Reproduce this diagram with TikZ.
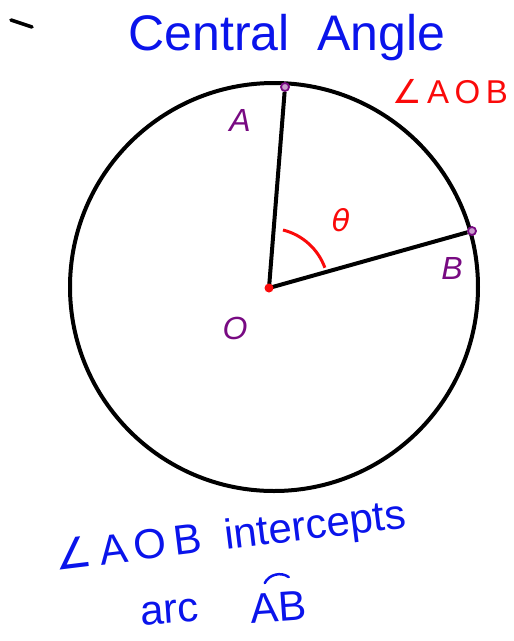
\documentclass[tikz,border=0pt]{standalone}
\usepackage{fontspec}
\setmainfont{Liberation Sans}
\newfontfamily\symfont{DejaVu Sans}
\usepackage{xcolor}
\usepackage{tikz}
\usetikzlibrary{positioning,arrows.meta}

\definecolor{penblue}{RGB}{10,20,235}
\definecolor{penred}{RGB}{250,10,10}
\definecolor{penpurple}{RGB}{120,10,130}

\begin{document}
\begin{tikzpicture}[
  x=1pt, y=-1pt,
  pt/.style={circle, draw=penpurple, line width=1.8pt, fill=penpurple!40,
             inner sep=0pt, minimum size=8pt},
  lbl/.style={text=penpurple, font=\fontsize{32}{34}\selectfont\itshape},
  note/.style={text=penblue, font=\fontsize{42}{46}\selectfont},
  rim/.style={line width=4pt, black}
]
\useasboundingbox (0,0) rectangle (514,641);

% circle and radii
\draw[rim] (274,287) circle (204);
\coordinate (O) at (269,288);
\node[pt] (A) at (285,87) {};
\node[pt] (B) at (472,231) {};
\draw[rim] (O) -- (A);
\draw[rim] (O) -- (B);
\fill[penred] (O) circle (4.5);

% angle mark
\draw[penred, line width=3pt] (283,230) arc[start angle=-76, end angle=-20, radius=60];
\node[text=penred, font=\fontsize{30}{32}\selectfont\symfont\itshape] (theta) at (341,220) {θ};

% point labels
\node[lbl] (labA) at (240,120) {A};
\node[lbl] (labB) at (452,268) {B};
\node[lbl] (labO) at (235,328) {O};

% titles
\draw[line width=3.5pt, line cap=round] (11,20) -- (32,27);
\node[note, font=\fontsize{50}{54}\selectfont] (title) at (287,38) {Central\ \ Angle};
\node[text=penred, font=\fontsize{33}{35}\selectfont] (aob) at (450,92)
  {{\symfont ∠}\,A\,O\,B};

% bottom note
\node[note, rotate=7, anchor=west] (icpt) at (52,560)
  {{\symfont ∠}\,A\,O\,B\ \ intercepts};
\node[note, rotate=4] (arc) at (170,612) {arc};
\node[note, rotate=4] (ab) at (278,607) {AB};
\draw[penblue, line width=2.5pt, line cap=round]
  ([xshift=-12pt,yshift=6pt]ab.north) to[bend left=50] ([xshift=12pt,yshift=12pt]ab.north);
\end{tikzpicture}
\end{document}
